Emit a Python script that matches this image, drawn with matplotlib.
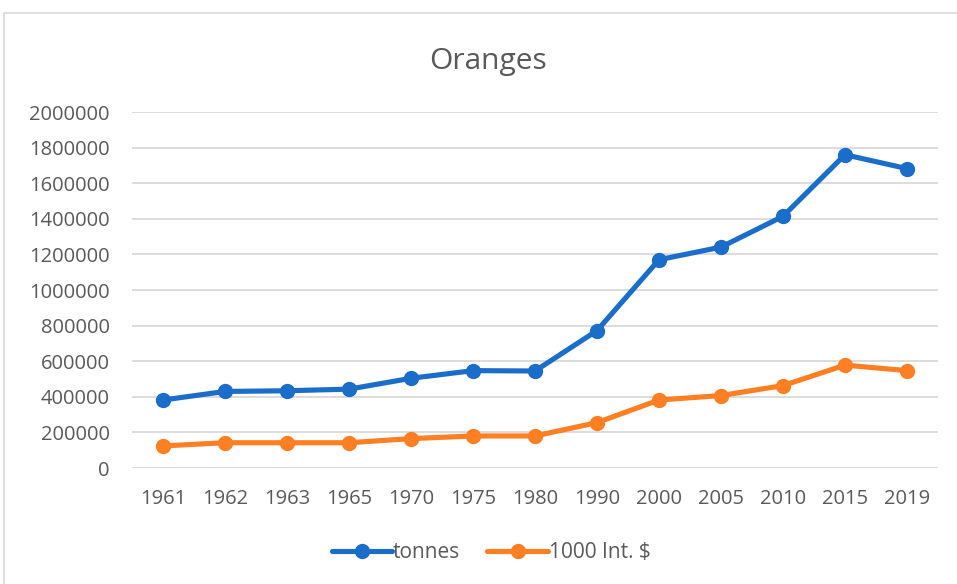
import matplotlib
matplotlib.use("Agg")
import matplotlib.pyplot as plt
from matplotlib.patches import Rectangle

years = ["1961", "1962", "1963", "1965", "1970", "1975", "1980", "1990",
         "2000", "2005", "2010", "2015", "2019"]
tonnes = [382000, 430000, 434000, 443000, 504000, 547000, 545000, 772000,
          1170000, 1241000, 1414000, 1760000, 1682000]
intl_dollars = [124000, 142000, 142000, 142000, 165000, 180000, 180000, 255000,
                382000, 407000, 463000, 578000, 547000]
yticks = list(range(0, 2000001, 200000))

plt.rcParams['font.family'] = ['Open Sans', 'DejaVu Sans']
W, H = 957, 584
fig = plt.figure(figsize=(W / 100, H / 100), dpi=100)
ax = fig.add_axes([132 / W, 1 - 468 / H, (938 - 132) / W, (468 - 112) / H])

# chart border
fig.patches.append(Rectangle((4 / W, -0.1), 1.2, 1 - 13 / H + 0.1,
                             transform=fig.transFigure, fill=False,
                             edgecolor='#d9d9d9', linewidth=1.2))

x = list(range(len(years)))
blue = '#1a6dc9'
orange = '#ff7f22'
ax.plot(x, tonnes, color=blue, linewidth=3.7, marker='o', markersize=10,
        label='tonnes', solid_capstyle='round', zorder=3)
ax.plot(x, intl_dollars, color=orange, linewidth=3.7, marker='o', markersize=10,
        label='1000 Int. $', solid_capstyle='round', zorder=3)

ax.set_xlim(-0.5, len(years) - 0.5)
ax.set_ylim(0, 2000000)
ax.set_yticks(yticks)
ax.set_yticklabels([str(v) for v in yticks])
ax.set_xticks(x)
ax.set_xticklabels(years)
ax.grid(axis='y', color='#d9d9d9', linewidth=1.3)
ax.set_axisbelow(True)
for s in ax.spines.values():
    s.set_visible(False)
ax.tick_params(axis='both', length=0, labelsize=14.5, colors='#595959')
ax.tick_params(axis='y', pad=16)
ax.tick_params(axis='x', pad=15)

fig.text(488 / W, 1 - 62 / H, 'Oranges', ha='center', va='center',
         fontsize=21.5, color='#595959')

leg = fig.legend(loc='center', bbox_to_anchor=(491 / W, 1 - 553 / H),
                 ncol=2, frameon=False, fontsize=15, handlelength=2.9,
                 handletextpad=0.05, columnspacing=1.3)
for t in leg.get_texts():
    t.set_color('#595959')

fig.savefig('out.png', dpi=100)
